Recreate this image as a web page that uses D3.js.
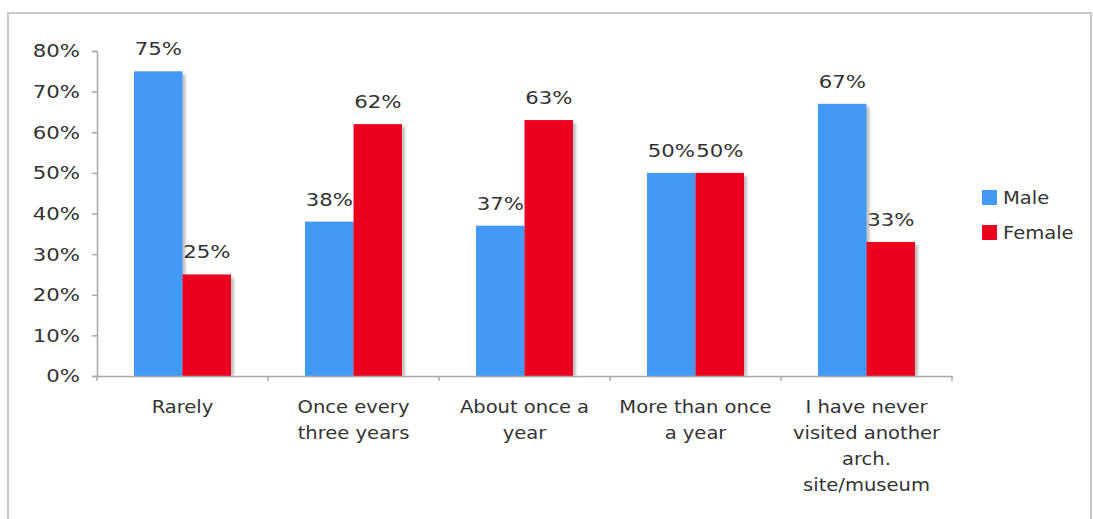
<!DOCTYPE html>
<html>
<head>
<meta charset="utf-8">
<script src="https://cdn.jsdelivr.net/npm/d3@7"></script>
<style>
  html, body { margin: 0; padding: 0; background: #fff; }
  svg { display: block; }
  text { font-family: "DejaVu Sans", Verdana, sans-serif; fill: #333; }
</style>
</head>
<body>
<svg id="chart" width="1093" height="519"></svg>
<script>
// Visit frequency by gender
const categories = [
  ["Rarely"],
  ["Once every", "three years"],
  ["About once a", "year"],
  ["More than once", "a year"],
  ["I have never", "visited another", "arch.", "site/museum"]
];
const seriesNames = ["Male", "Female"];
const maleValues = [0.75, 0.38, 0.37, 0.50, 0.67];
const femaleValues = [0.25, 0.62, 0.63, 0.50, 0.33];
const yTicks = [0, 0.1, 0.2, 0.3, 0.4, 0.5, 0.6, 0.7, 0.8];
const colors = { Male: "#4299f6", Female: "#ec0020" };

const values = { Male: maleValues, Female: femaleValues };
const catKeys = categories.map(c => c.join(" "));

const svg = d3.select("#chart");
const SX = 1.15;           // horizontal text stretch for words
const SXP = 1.25;          // horizontal text stretch for percentages
const FS = 17;             // base font size

// outer frame
svg.append("rect")
  .attr("x", 8).attr("y", 13)
  .attr("width", 1083).attr("height", 520)
  .attr("fill", "none").attr("stroke", "#c8c8c8").attr("stroke-width", 2);

const plot = { left: 97, right: 952, top: 51, bottom: 376 };

const x0 = d3.scaleBand().domain(catKeys).range([plot.left, plot.right]).padding(0);
const x1 = d3.scaleBand().domain(seriesNames).range([0, x0.bandwidth()])
  .paddingInner(0).paddingOuter(0.763);
const y = d3.scaleLinear().domain([0, 0.8]).range([plot.bottom, plot.top]);

const defs = svg.append("defs");
defs.append("filter").attr("id", "shadow")
  .attr("x", "-20%").attr("y", "-20%").attr("width", "140%").attr("height", "140%")
  .append("feGaussianBlur").attr("stdDeviation", 1.2);

// bars
const groups = svg.append("g").selectAll("g")
  .data(catKeys)
  .join("g")
  .attr("transform", d => `translate(${x0(d)},0)`);

const barData = (d, i) => seriesNames.map(s => ({ s, v: values[s][i] }));

groups.each(function(d, i) {
  const g = d3.select(this);
  const data = barData(d, i);
  // soft shadow behind the bars
  g.selectAll("rect.sh").data(data).join("rect")
    .attr("class", "sh")
    .attr("x", b => x1(b.s) + 3)
    .attr("y", b => y(b.v) + 3)
    .attr("width", x1.bandwidth())
    .attr("height", b => y(0) - y(b.v) - 3)
    .attr("fill", "#9a9a9a")
    .attr("opacity", 0.6)
    .attr("filter", "url(#shadow)");
  g.selectAll("rect.bar").data(data).join("rect")
    .attr("class", "bar")
    .attr("x", b => x1(b.s))
    .attr("y", b => y(b.v))
    .attr("width", x1.bandwidth())
    .attr("height", b => y(0) - y(b.v))
    .attr("fill", b => colors[b.s]);
  g.selectAll("text.val").data(data).join("text")
    .attr("class", "val")
    .attr("text-anchor", "middle")
    .attr("font-size", FS)
    .attr("transform", b => `translate(${x1(b.s) + x1.bandwidth() / 2},${y(b.v) - 16}) scale(${SXP},1)`)
    .text(b => Math.round(b.v * 100) + "%");
});

// y axis
const yAxis = d3.axisLeft(y).tickValues(yTicks).tickFormat(d3.format(".0%"))
  .tickSize(5).tickPadding(0);
const gy = svg.append("g").attr("transform", `translate(${plot.left},0)`).call(yAxis);
gy.select(".domain").attr("stroke", "#a8a8a8").attr("stroke-width", 1.5);
gy.selectAll(".tick line").attr("stroke", "#a8a8a8").attr("stroke-width", 1.5);
gy.selectAll(".tick text")
  .attr("x", null).attr("dy", "0.35em")
  .attr("font-size", FS).attr("font-family", null).attr("fill", "#333")
  .attr("text-anchor", "end")
  .attr("transform", `translate(-17,0) scale(${SXP},1)`);

// x axis
const xAxis = d3.axisBottom(x0).tickSize(0).tickFormat("");
const gx = svg.append("g").attr("transform", `translate(0,${plot.bottom})`).call(xAxis);
gx.select(".domain").attr("stroke", "#a8a8a8").attr("stroke-width", 1.5);
gx.selectAll(".tick").remove();
// boundary ticks between categories
const bounds = catKeys.map(k => x0(k)).concat([plot.right]);
gx.selectAll("line.bnd").data(bounds).join("line")
  .attr("class", "bnd")
  .attr("x1", d => d).attr("x2", d => d)
  .attr("y1", 0).attr("y2", 5)
  .attr("stroke", "#a8a8a8").attr("stroke-width", 1.5);

// category labels
const catLabels = svg.append("g").selectAll("text")
  .data(categories)
  .join("text")
  .attr("font-size", FS)
  .attr("text-anchor", "middle")
  .attr("transform", (d, i) => `translate(${x0(catKeys[i]) + x0.bandwidth() / 2},413) scale(${SX},1)`);
catLabels.selectAll("tspan")
  .data(d => d)
  .join("tspan")
  .attr("x", 0)
  .attr("y", (d, i) => i * 26)
  .text(d => d);

// legend
const legend = svg.append("g").selectAll("g")
  .data(seriesNames)
  .join("g")
  .attr("transform", (d, i) => `translate(982,${190 + i * 35})`);
legend.append("rect")
  .attr("width", 15).attr("height", 15)
  .attr("fill", d => colors[d]);
legend.append("text")
  .attr("font-size", FS)
  .attr("transform", `translate(21,14) scale(${SX},1)`)
  .text(d => d);
</script>
</body>
</html>
